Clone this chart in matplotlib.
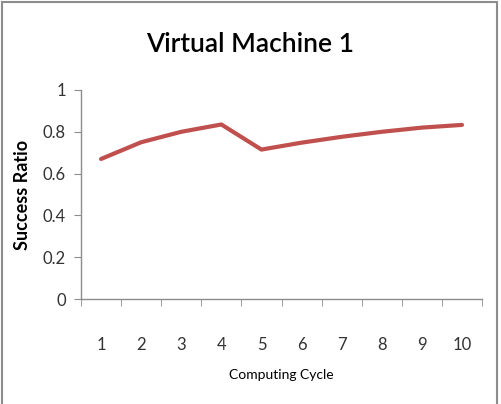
import matplotlib
matplotlib.use("Agg")
import matplotlib.pyplot as plt
from matplotlib.patches import Rectangle

cycles = [1, 2, 3, 4, 5, 6, 7, 8, 9, 10]
success_ratio = [0.67, 0.75, 0.80, 0.835, 0.715, 0.748, 0.776, 0.80, 0.82, 0.833]
y_ticks = [0, 0.2, 0.4, 0.6, 0.8, 1]
y_tick_labels = ["0", "0.2", "0.4", "0.6", "0.8", "1"]

plt.rcParams['font.family'] = ['Lato', 'DejaVu Sans']

fig = plt.figure(figsize=(5.01, 4.04), dpi=100)
fig.patches.append(Rectangle((1.5/501, -0.01), (497-1.5)/501, (404-2)/404 + 0.01,
                             transform=fig.transFigure, fill=False,
                             edgecolor='#8c8c8c', linewidth=1.5))

ax = fig.add_axes([81/501, (404-299)/404, (482-81)/501, (299-90)/404])
x = list(range(len(cycles)))
ax.plot(x, success_ratio, color='#c0504d', linewidth=3, solid_capstyle='round')

ax.set_xlim(-0.5, len(cycles) - 0.5)
ax.set_ylim(0, 1)
ax.set_yticks(y_ticks)
ax.set_yticklabels(y_tick_labels, fontsize=12, color='#333333')
ax.set_xticks(x)
ax.set_xticklabels([str(c) for c in cycles], fontsize=12, color='#333333')
ax.set_xticks([i - 0.5 for i in range(len(cycles) + 1)], minor=True)
ax.tick_params(axis='x', which='major', length=0, pad=27)
ax.tick_params(axis='x', which='minor', length=5, direction='out', color='#8c8c8c')
ax.tick_params(axis='y', length=5, direction='out', color='#8c8c8c', pad=6)

for s in ['top', 'right']:
    ax.spines[s].set_visible(False)
for s in ['left', 'bottom']:
    ax.spines[s].set_color('#8c8c8c')
    ax.spines[s].set_linewidth(1)

ax.set_ylabel("Success Ratio", fontsize=13, fontweight='bold', labelpad=8)
ax.set_xlabel("Computing Cycle", fontsize=10, labelpad=12)
fig.text(0.5, (404-45)/404, "Virtual Machine 1", ha='center', va='center',
         fontsize=19, fontweight='semibold')

fig.savefig("out.png", dpi=100)
